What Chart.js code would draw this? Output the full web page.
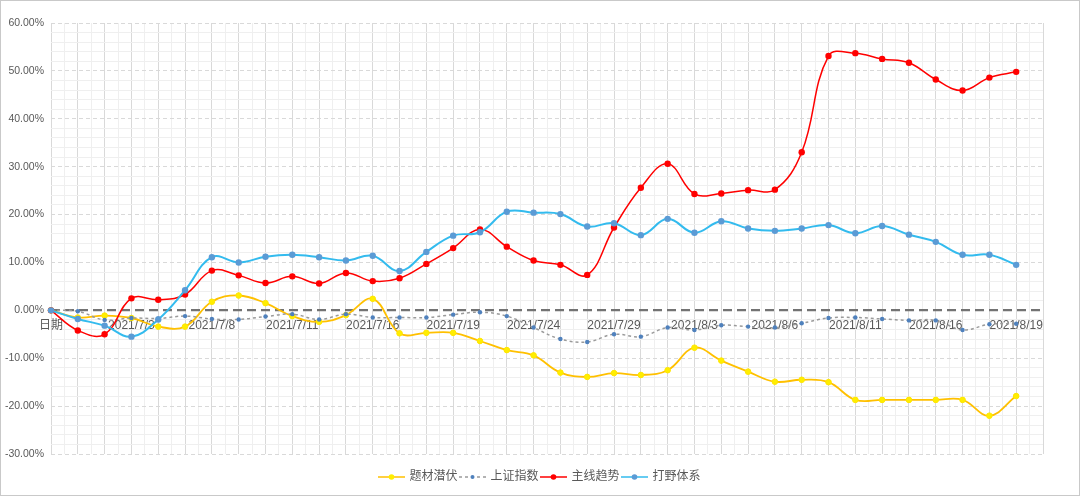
<!DOCTYPE html>
<html>
<head>
<meta charset="utf-8">
<script src="https://cdn.jsdelivr.net/npm/chart.js@4.4.1/dist/chart.umd.min.js"></script>
<style>
    html, body { margin: 0; padding: 0; background: #fff; }
    #wrap { width: 1080px; height: 496px; box-sizing: border-box; border: 1px solid #c9c9c9; }
    canvas { display: block; }
</style>
</head>
<body>
<div id="wrap"><canvas id="chart" width="1078" height="494"></canvas></div>
<script>
// categories (last one empty, the plot runs one slot past the final day)
const dates = ['日期', '2021/7/1', '2021/7/2', '2021/7/3', '2021/7/6', '2021/7/7', '2021/7/8',
    '2021/7/9', '2021/7/10', '2021/7/11', '2021/7/13', '2021/7/14', '2021/7/16', '2021/7/17',
    '2021/7/18', '2021/7/19', '2021/7/21', '2021/7/22', '2021/7/24', '2021/7/26', '2021/7/27',
    '2021/7/29', '2021/7/30', '2021/8/2', '2021/8/3', '2021/8/4', '2021/8/5', '2021/8/6',
    '2021/8/9', '2021/8/10', '2021/8/11', '2021/8/12', '2021/8/13', '2021/8/16', '2021/8/17',
    '2021/8/18', '2021/8/19', ''];

// series values, in percent
const tiCai = [0, -1.5, -1.1, -1.6, -3.4, -3.4, 1.8, 3.1, 1.5, -1.2, -2.4, -1.0, 2.4, -4.8,
    -4.7, -4.7, -6.4, -8.3, -9.4, -13.0, -13.9, -13.1, -13.5, -12.5, -7.8, -10.5, -12.8, -14.9,
    -14.5, -15.0, -18.7, -18.7, -18.7, -18.7, -18.7, -22.0, -17.9];
const shangZheng = [0, -0.2, -2.0, -1.6, -1.7, -1.2, -1.8, -1.9, -1.3, -0.8, -1.9, -0.8, -1.5,
    -1.5, -1.5, -0.9, -0.4, -1.2, -3.6, -6.0, -6.6, -5.0, -5.5, -3.6, -4.1, -3.1, -3.4, -3.6,
    -2.7, -1.6, -1.5, -1.8, -2.1, -2.1, -4.1, -2.9, -2.8];
const zhuXian = [0, -4.2, -5.0, 2.5, 2.2, 3.3, 8.3, 7.3, 5.7, 7.1, 5.6, 7.8, 6.1, 6.7, 9.7,
    13.0, 16.9, 13.3, 10.4, 9.5, 7.4, 17.3, 25.6, 30.6, 24.3, 24.4, 25.1, 25.2, 33.0, 53.1,
    53.7, 52.5, 51.7, 48.2, 45.9, 48.6, 49.8];
const daYe = [0, -1.8, -3.2, -5.5, -1.9, 4.2, 11.1, 10.0, 11.2, 11.6, 11.1, 10.4, 11.4, 8.2,
    12.2, 15.6, 16.3, 20.6, 20.4, 20.1, 17.5, 18.2, 15.7, 19.1, 16.2, 18.6, 17.1, 16.6, 17.1,
    17.8, 16.1, 17.6, 15.8, 14.3, 11.6, 11.6, 9.5];

// y axis
const yMin = -30, yMax = 60, yStep = 10;

// small line + dot pictures for the legend
function legendIcon(lineColor, dotColor, dash, r) {
    const c = document.createElement('canvas');
    c.width = 27; c.height = 10;
    const g = c.getContext('2d');
    g.strokeStyle = lineColor;
    g.lineWidth = 1.5;
    g.setLineDash(dash);
    g.beginPath(); g.moveTo(0, 5); g.lineTo(27, 5); g.stroke();
    g.fillStyle = dotColor;
    g.beginPath(); g.arc(13.5, 5, r, 0, Math.PI * 2); g.fill();
    return c;
}

const icons = [
    legendIcon('#ffc000', '#ffee00', [], 2.8),
    legendIcon('#9a9a9a', '#4f81bd', [3, 3], 2),
    legendIcon('#ff0000', '#ff0000', [], 2.8),
    legendIcon('#33bbee', '#5b9bd5', [], 2.8)
];

Chart.defaults.font.family = '"Liberation Sans", "Noto Sans CJK SC", sans-serif';
Chart.defaults.color = '#595959';

const ctx = document.getElementById('chart').getContext('2d');
new Chart(ctx, {
    type: 'line',
    data: {
        labels: dates,
        datasets: [{
            label: '题材潜伏',
            data: tiCai,
            borderColor: '#ffc000',
            borderWidth: 1.8,
            pointBackgroundColor: '#ffee00',
            pointBorderColor: '#ffe600',
            pointBorderWidth: 1,
            pointRadius: 2.8,
            tension: 0.4,
            order: 4
        }, {
            label: '上证指数',
            data: shangZheng,
            borderColor: '#9a9a9a',
            borderWidth: 1.5,
            borderDash: [3, 3],
            pointBackgroundColor: '#4f81bd',
            pointBorderWidth: 0,
            pointRadius: 2.2,
            tension: 0.4,
            order: 3
        }, {
            label: '主线趋势',
            data: zhuXian,
            borderColor: '#ff0000',
            borderWidth: 1.5,
            pointBackgroundColor: '#ff0000',
            pointBorderWidth: 0,
            pointRadius: 3.2,
            tension: 0.4,
            order: 2
        }, {
            label: '打野体系',
            data: daYe,
            borderColor: '#33bbee',
            borderWidth: 2,
            pointBackgroundColor: '#5b9bd5',
            pointBorderWidth: 0,
            pointRadius: 3.2,
            tension: 0.4,
            order: 1
        }]
    },
    options: {
        responsive: false,
        animation: false,
        layout: { padding: { left: 0, right: 0, top: 22, bottom: 2 } },
        plugins: {
            tooltip: { enabled: false },
            legend: {
                position: 'bottom',
                labels: {
                    usePointStyle: true,
                    pointStyleWidth: 24,
                    padding: 3,
                    color: '#595959',
                    font: { size: 12 },
                    sort: (a, b) => a.datasetIndex - b.datasetIndex,
                    generateLabels: (chart) => {
                        const items = Chart.defaults.plugins.legend.labels.generateLabels(chart);
                        items.forEach((it) => { it.pointStyle = icons[it.datasetIndex]; });
                        return items;
                    }
                }
            }
        },
        scales: {
            x: {
                type: 'category',
                position: { y: 0 },
                grid: { color: '#d9d9d9', drawTicks: false },
                border: { display: false },
                ticks: {
                    autoSkip: false,
                    maxRotation: 0,
                    padding: 8,
                    color: '#595959',
                    font: { size: 12 },
                    callback: (v, i) => (i % 3 === 0 ? dates[i] : '')
                }
            },
            xMinor: {
                type: 'linear',
                position: 'bottom',
                min: 0,
                max: dates.length - 1,
                afterFit: (s) => { s.height = 14; },
                grid: {
                    drawTicks: false,
                    color: (c) => (c.tick && c.tick.value % 1 !== 0 ? '#efefef' : 'rgba(0,0,0,0)')
                },
                border: { display: false },
                ticks: { display: false, stepSize: 0.5 }
            },
            y: {
                min: yMin,
                max: yMax,
                afterFit: (s) => { s.width = 50; },
                grid: {
                    drawTicks: false,
                    color: (c) => (c.tick && c.tick.value === 0 ? '#737373' : '#d9d9d9'),
                    lineWidth: (c) => (c.tick && c.tick.value === 0 ? 2.2 : 1)
                },
                border: {
                    display: false,
                    dash: (c) => (c.tick && c.tick.value === 0 ? [9, 5] : [4, 3])
                },
                ticks: {
                    stepSize: yStep,
                    padding: 7,
                    color: '#595959',
                    font: { size: 10.5 },
                    callback: (v) => v.toFixed(2) + '%'
                }
            },
            yMinor: {
                type: 'linear',
                position: 'right',
                min: yMin,
                max: yMax,
                afterFit: (s) => { s.width = 36; },
                grid: {
                    drawTicks: false,
                    color: (c) => (c.tick && c.tick.value % 10 !== 0 ? '#efefef' : 'rgba(0,0,0,0)')
                },
                border: { display: false },
                ticks: { display: false, stepSize: 2 }
            }
        }
    }
});
</script>
</body>
</html>
